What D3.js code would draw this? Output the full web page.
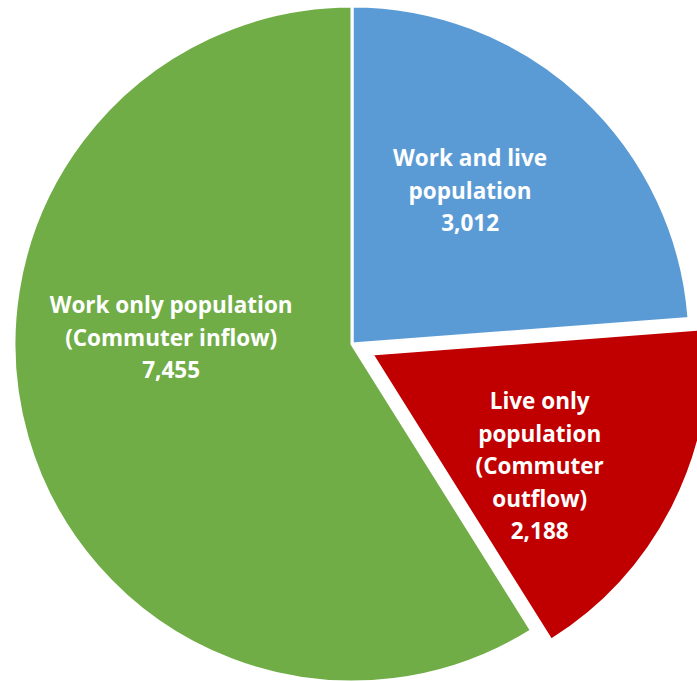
<!DOCTYPE html>
<html>
<head>
<meta charset="utf-8">
<script src="https://cdn.jsdelivr.net/npm/d3@7"></script>
<style>
  html, body { margin: 0; padding: 0; background: #ffffff; }
  svg { display: block; }
</style>
</head>
<body>
<svg id="chart" width="697" height="681"></svg>
<script>
// ---- Data ----
const categories = ["Work and live population", "Live only population (Commuter outflow)", "Work only population (Commuter inflow)"];
const values = [3012, 2188, 7455];
const labelLines = [
  ["Work and live", "population"],
  ["Live only", "population", "(Commuter", "outflow)"],
  ["Work only population", "(Commuter inflow)"]
];

// ---- Style / layout config ----
const colors = ["#5B9BD5", "#C00000", "#70AD47"];
const exploded = [false, true, false];
const labelAngleDeg = [37.5, 123.7, 272.2];
const labelRadius = [194, 202, 181];

const W = 697, H = 681;
const cx = 352, cy = 344, R = 338, explode = 22;
const lineH = 32.5;

const svg = d3.select("#chart");
const g = svg.append("g").attr("transform", `translate(${cx},${cy})`);

const data = categories.map((c, i) => ({ cat: c, value: values[i], i }));
const pie = d3.pie().sort(null).value(d => d.value).startAngle(0).endAngle(2 * Math.PI);
const arc = d3.arc().innerRadius(0).outerRadius(R);
const arcs = pie(data);

function offsetOf(d) {
  if (!exploded[d.data.i]) return [0, 0];
  const mid = (d.startAngle + d.endAngle) / 2;
  return [Math.sin(mid) * explode, -Math.cos(mid) * explode];
}

g.selectAll("path.slice")
  .data(arcs)
  .join("path")
  .attr("class", "slice")
  .attr("d", arc)
  .attr("fill", d => colors[d.data.i])
  .attr("stroke", "#ffffff")
  .attr("stroke-width", 3)
  .attr("stroke-linejoin", "miter")
  .attr("transform", d => { const o = offsetOf(d); return `translate(${o[0]},${o[1]})`; });

const labels = g.selectAll("text.lbl")
  .data(arcs)
  .join("text")
  .attr("class", "lbl")
  .attr("text-anchor", "middle")
  .attr("fill", "#ffffff")
  .attr("font-family", "'Open Sans', sans-serif")
  .attr("font-weight", "bold")
  .attr("font-size", 22.5)
  .each(function (d) {
    const i = d.data.i;
    const o = offsetOf(d);
    const a = labelAngleDeg[i] * Math.PI / 180;
    const x = o[0] + Math.sin(a) * labelRadius[i];
    const y = o[1] - Math.cos(a) * labelRadius[i];
    const lines = labelLines[i].concat([d3.format(",")(d.data.value)]);
    const n = lines.length;
    const sel = d3.select(this);
    lines.forEach((t, k) => {
      sel.append("tspan")
        .attr("x", x)
        .attr("y", y + (k - (n - 1) / 2) * lineH)
        .attr("dominant-baseline", "central")
        .text(t);
    });
  });
</script>
</body>
</html>
